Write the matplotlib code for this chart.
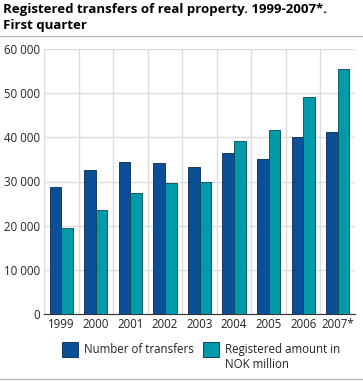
import matplotlib.pyplot as plt
from matplotlib.lines import Line2D
from matplotlib.patches import Rectangle
from matplotlib.ticker import FuncFormatter
import numpy as np

plt.rcParams['font.family'] = ['Open Sans', 'DejaVu Sans']

years = ['1999', '2000', '2001', '2002', '2003', '2004', '2005', '2006', '2007*']
transfers = [28700, 32500, 34400, 34300, 33200, 36500, 35100, 40100, 41100]
amount = [19400, 23500, 27500, 29600, 29800, 39100, 41700, 49200, 55500]
series_names = ['Number of transfers', 'Registered amount in\nNOK million']

dark = '#0b5096'
teal = '#009aab'
grid = '#dcdcdc'
W, H = 363, 381

fig = plt.figure(figsize=(W / 100, H / 100), dpi=100)
ax = fig.add_axes([44 / W, 1 - 314 / H, 311 / W, 265 / H])

x = np.arange(len(years))
w = 0.335
ax.bar(x - w / 2, transfers, w, color=dark, edgecolor='#06294f', linewidth=0.6, zorder=3)
ax.bar(x + w / 2, amount, w, color=teal, edgecolor='#06494f', linewidth=0.6, zorder=3)

ax.set_xlim(-0.5, len(years) - 0.5)
ax.set_ylim(0, 60000)
ax.set_yticks(range(0, 60001, 10000))
ax.yaxis.set_major_formatter(FuncFormatter(lambda v, p: f'{int(v):,}'.replace(',', ' ')))
ax.set_xticks(x)
ax.set_xticklabels(years)
ax.set_xticks(np.arange(-0.5, len(years), 1), minor=True)
ax.grid(axis='y', color=grid, linewidth=1, zorder=0)
ax.grid(axis='x', which='minor', color=grid, linewidth=1, zorder=0)
ax.tick_params(axis='both', which='both', length=0, labelsize=8.3, colors='#222222', pad=3)
for s in ['top', 'right', 'left']:
    ax.spines[s].set_visible(False)
ax.spines['bottom'].set_color('#333333')
ax.spines['bottom'].set_linewidth(0.8)

fig.text(3 / W, 1 - 3 / H, 'Registered transfers of real property. 1999-2007*.\nFirst quarter',
         fontsize=9.5, fontweight='bold', va='top', ha='left', linespacing=1.3)
fig.add_artist(Line2D([0, 1], [1 - 36 / H, 1 - 36 / H], color='#bbbbbb', linewidth=1))
fig.add_artist(Line2D([0, 1], [1 - 379 / H, 1 - 379 / H], color='#bbbbbb', linewidth=1))

# legend drawn by hand so the swatch lines up with the first text line
for (sx, tx), col, name in zip([(62, 84), (203, 225)], [dark, teal], series_names):
    fig.add_artist(Rectangle((sx / W, 1 - 357 / H), 16 / W, 15 / H, transform=fig.transFigure,
                             facecolor=col, edgecolor='#06294f', linewidth=0.6))
    fig.text(tx / W, 1 - 343 / H, name, fontsize=8.3, va='top', ha='left',
             color='#222222', linespacing=1.25)

fig.savefig('out.png', dpi=100)
